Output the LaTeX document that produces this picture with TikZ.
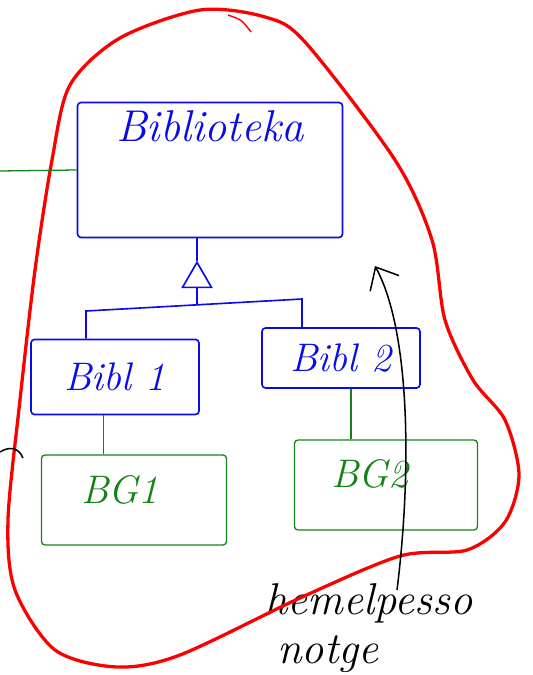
\documentclass[tikz,border=0pt]{standalone}
\usepackage{tikz}
\usetikzlibrary{shapes.geometric,arrows.meta}

\definecolor{penblue}{RGB}{10,10,235}
\definecolor{pengreen}{RGB}{20,130,20}
\definecolor{penred}{RGB}{250,0,0}
\newcommand{\handfont}{\fontsize{34}{38}\selectfont\itshape}
\newcommand{\bighandfont}{\fontsize{38}{42}\selectfont\itshape}

\begin{document}
\begin{tikzpicture}[x=0.03cm,y=-0.03cm,
    blue_box/.style={rectangle,draw=penblue,text=penblue,line width=1.4pt,rounded corners=3pt,font=\handfont},
    green_box/.style={rectangle,draw=pengreen,text=pengreen,line width=1.1pt,rounded corners=3pt},
    green_text/.style={text=pengreen,font=\handfont},
    blue_line/.style={draw=penblue,line width=1.4pt},
    green_line/.style={draw=pengreen,line width=1.1pt},
    pen_line/.style={draw=black,line width=1.3pt},
    red_line/.style={draw=penred,line width=2.8pt},
    tri_node/.style={regular polygon,regular polygon sides=3,draw=penblue,line width=1.4pt,minimum size=1cm,inner sep=0pt}]

    \useasboundingbox (0,0) rectangle (532,675);

	\node[blue_box, minimum width=7.95cm, minimum height=4.05cm,
          label={[anchor=north,text=penblue,font=\bighandfont,yshift=-0.15cm]north:Biblioteka}] (bibl) at (210,170) {};
    \node[tri_node] (tri) at (197,279) {};
    \node[blue_box, minimum width=5.04cm, minimum height=2.25cm] (b1) at (115,377) {Bibl 1};
    \node[blue_box, minimum width=4.74cm, minimum height=1.8cm] (b2) at (341,358) {Bibl 2};
    \node[green_box, minimum width=5.55cm, minimum height=2.7cm] (g1) at (134,500) {};
    \node[green_box, minimum width=5.49cm, minimum height=2.7cm] (g2) at (386,485) {};
    \node[green_text] (g1t) at (120,490) {BG1};
    \node[green_text] (g2t) at (370,474) {BG2};
    \node[font=\bighandfont] (note1) at (369,603) {hemelpesso};
    \node[font=\bighandfont] (note2) at (328,654) {notge};

    \coordinate (barL) at (86,311);
    \coordinate (barR) at (302,299);
    \coordinate (fork) at (197,305);
    \coordinate (ext) at (0,171);
    \coordinate (tail) at (397,590);
    \coordinate (tip) at (375,266);

    % blob round the library
    \draw[red_line] plot[smooth cycle] coordinates {(200,10) (265,17) (305,42) (395,160)
        (432,240) (445,320) (473,380) (505,420) (519,475) (505,522) (467,550) (400,556) (300,598)
        (180,655) (117,667) (55,650) (15,590) (8,520) (20,400) (35,270) (52,160) (70,85) (120,38)};
    \draw[red_line, line width=1.2pt] (228,15) .. controls (242,20) .. (251,32);

    \draw[blue_line] (tri.north |- bibl.south) -- (tri.north);
    \draw[blue_line] (tri.south) -- (fork);
    \draw[blue_line] (barL |- b1.north) -- (barL) -- (barR) -- (barR |- b2.north);

    \draw[green_line] (ext) -- (bibl.west);
    \draw[green_line] ([xshift=-0.35cm]b1.south) -- ([xshift=-0.35cm]b1.south |- g1.north);
    \draw[green_line] ([xshift=0.3cm]b2.south) -- ([xshift=0.3cm]b2.south |- g2.north);

    \draw[pen_line, -{Straight Barb[length=16pt,width=28pt,line width=1.3pt]}] (tail) .. controls (412,470) and (410,330) .. (tip);
    \draw[pen_line] (0,452) .. controls (8,447) and (18,446) .. (23,458);

\end{tikzpicture}
\end{document}
